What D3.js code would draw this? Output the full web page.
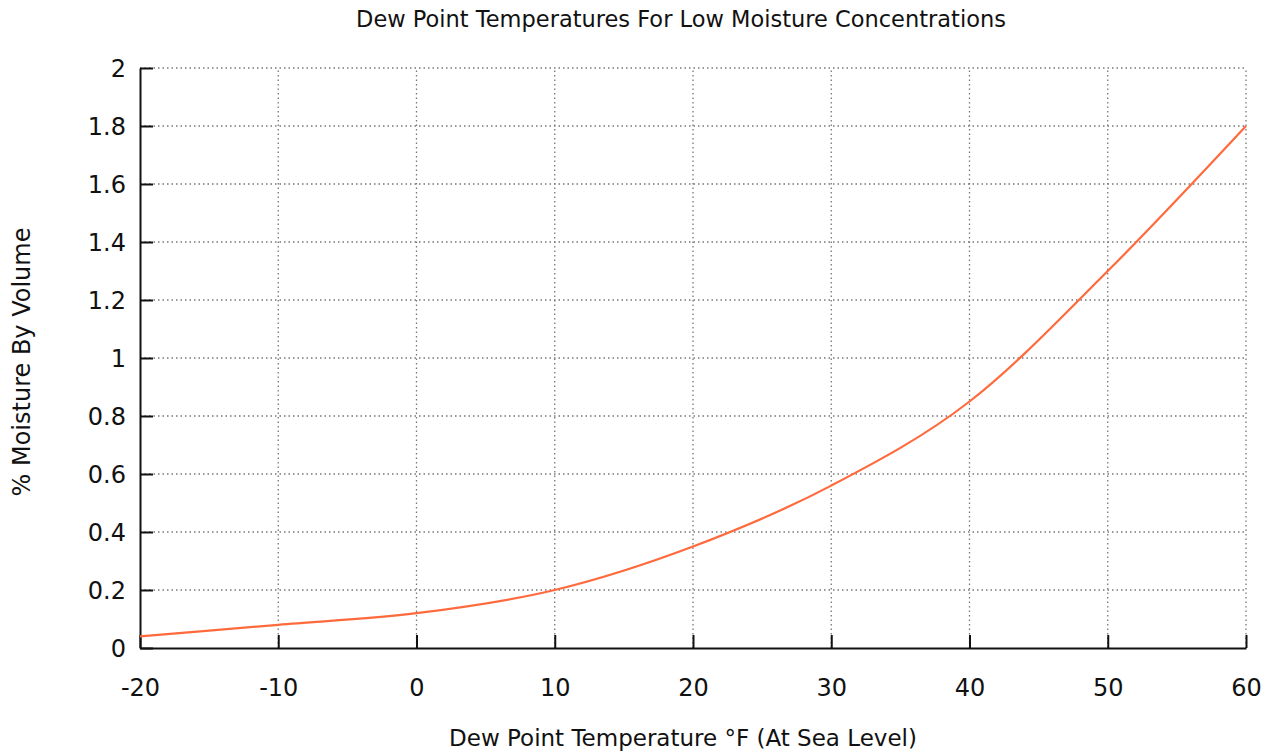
<!DOCTYPE html>
<html>
<head>
<meta charset="utf-8">
<script src="https://cdn.jsdelivr.net/npm/d3@7"></script>
<style>
  body { margin: 0; background: #fff; }
  text { font-family: "DejaVu Sans", sans-serif; fill: #111; }
</style>
</head>
<body>
<script>
// data
var temps    = [-20, -10, 0, 10, 20, 30, 40, 50, 60];
var moisture = [0.04, 0.08, 0.12, 0.20, 0.35, 0.56, 0.85, 1.30, 1.80];
var xTicks = [-20, -10, 0, 10, 20, 30, 40, 50, 60];
var yTicks = [0, 0.2, 0.4, 0.6, 0.8, 1, 1.2, 1.4, 1.6, 1.8, 2];

var W = 1272, H = 754;
var L = 140, R = 1246, T = 68, B = 648;

var svg = d3.select('body').append('svg').attr('width', W).attr('height', H);

var x = d3.scaleLinear().domain([-20, 60]).range([L, R]);
var y = d3.scaleLinear().domain([0, 2]).range([B, T]);

// grid
var grid = svg.append('g').attr('stroke', '#777').attr('stroke-width', 1.3)
  .attr('stroke-dasharray', '1.5,3');
xTicks.forEach(function(t) {
  if (t == -20) return;
  grid.append('line').attr('x1', x(t)).attr('x2', x(t)).attr('y1', B).attr('y2', T);
});
yTicks.forEach(function(t) {
  if (t == 0) return;
  grid.append('line').attr('x1', L).attr('x2', R).attr('y1', y(t)).attr('y2', y(t));
});

// axes
var xAxis = d3.axisBottom(x).tickValues(xTicks).tickSizeInner(-13).tickSizeOuter(0)
  .tickFormat(function(d) { return String(d); });
var yAxis = d3.axisLeft(y).tickValues(yTicks).tickSizeInner(-13).tickSizeOuter(0)
  .tickFormat(function(d) { return String(d); });

var gx = svg.append('g').attr('transform', 'translate(0,' + B + ')').call(xAxis);
var gy = svg.append('g').attr('transform', 'translate(' + L + ',0)').call(yAxis);
[gx, gy].forEach(function(g) {
  g.select('.domain').attr('stroke', '#111').attr('stroke-width', 2);
  g.selectAll('.tick line').attr('stroke', '#111').attr('stroke-width', 2);
  g.selectAll('.tick text').style('font-family', '"DejaVu Sans", sans-serif')
    .style('font-size', '24px').attr('fill', '#111');
});
gx.selectAll('.tick text').attr('dy', '0.35em').attr('y', 40);
gy.selectAll('.tick text').attr('x', -14).attr('dy', '0.35em');

// curve
var line = d3.line()
  .x(function(d, i) { return x(temps[i]); })
  .y(function(d) { return y(d); })
  .curve(d3.curveMonotoneX);
svg.append('path').datum(moisture).attr('d', line)
  .attr('fill', 'none').attr('stroke', '#ff6a3d').attr('stroke-width', 2.2);

// titles
svg.append('text').attr('x', 681).attr('y', 19).attr('dy', '0.35em').attr('text-anchor', 'middle')
  .style('font-size', '22.5px').text('Dew Point Temperatures For Low Moisture Concentrations');
svg.append('text').attr('x', 683).attr('y', 738).attr('dy', '0.35em').attr('text-anchor', 'middle')
  .style('font-size', '23px').text('Dew Point Temperature °F (At Sea Level)');
svg.append('text').attr('transform', 'translate(22,362) rotate(-90)').attr('dy', '0.35em')
  .attr('text-anchor', 'middle')
  .style('font-size', '24px').text('% Moisture By Volume');
</script>
</body>
</html>
